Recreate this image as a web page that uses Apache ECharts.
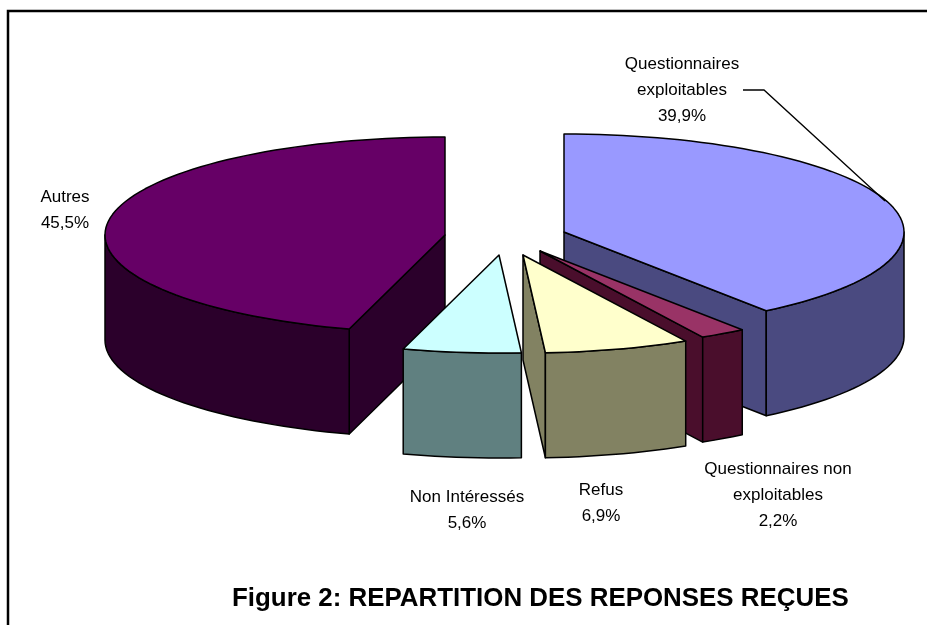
<!DOCTYPE html>
<html>
<head>
<meta charset="utf-8">
<style>
  html, body { margin: 0; padding: 0; background: #fff; }
  #chart { width: 927px; height: 625px; }
</style>
<script src="https://cdn.jsdelivr.net/npm/echarts@6/dist/echarts.min.js"></script>
</head>
<body>
<div id="chart"></div>
<script>
  var categories = ['Questionnaires exploitables', 'Questionnaires non exploitables', 'Refus', 'Non Intéressés', 'Autres'];
  var values = [39.9, 2.2, 6.9, 5.6, 45.5];
  var labelLines = [
    ['Questionnaires', 'exploitables'],
    ['Questionnaires non', 'exploitables'],
    ['Refus'],
    ['Non Intéressés'],
    ['Autres']
  ];
  var topColors = ['#9999ff', '#993366', '#ffffcc', '#ccffff', '#660066'];
  var sideColors = ['#4a4a80', '#4a0e2c', '#828262', '#608080', '#2b002b'];
  var titleText = 'Figure 2: REPARTITION DES REPONSES REÇUES';

  // centre de chaque part (eclatee) et position des etiquettes
  var centers = [[564, 232], [540, 251], [523, 255], [499, 255], [445, 235]];
  var labelPos = [[682, 64], [778, 469], [601, 490], [467, 497], [65, 197]];
  // ordre de dessin, du fond vers l'avant
  var drawOrder = [4, 0, 1, 3, 2];
  var rx = 340, ry = 98, depth = 105;

  var total = values.reduce(function (a, b) { return a + b; }, 0);

  function pt(c, deg, dy) {
    var r = deg * Math.PI / 180;
    return [c[0] + rx * Math.sin(r), c[1] - ry * Math.cos(r) + (dy || 0)];
  }

  function arc(c, from, to, dy) {
    var pts = [];
    var n = Math.max(2, Math.ceil(Math.abs(to - from) / 2));
    for (var i = 0; i <= n; i++) {
      pts.push(pt(c, from + (to - from) * i / n, dy));
    }
    return pts;
  }

  var lineStyle = { stroke: '#000', lineWidth: 1.5, lineJoin: 'round' };

  function poly(points, fill) {
    return { type: 'polygon', shape: { points: points }, style: Object.assign({ fill: fill }, lineStyle) };
  }

  function renderSlice(params, api) {
    var idx = api.value(1);
    var before = 0;
    for (var i = 0; i < idx; i++) before += values[i];
    var a0 = before / total * 360;
    var a1 = (before + api.value(0)) / total * 360;
    var c = centers[idx];
    var side = sideColors[idx];
    var kids = [];

    // faces radiales visibles
    if (Math.cos((a0 - 90) * Math.PI / 180) < -0.01) {
      var e0 = pt(c, a0);
      kids.push(poly([c, e0, [e0[0], e0[1] + depth], [c[0], c[1] + depth]], side));
    }
    if (Math.cos((a1 + 90) * Math.PI / 180) < -0.01) {
      var e1 = pt(c, a1);
      kids.push(poly([c, e1, [e1[0], e1[1] + depth], [c[0], c[1] + depth]], side));
    }
    // bord exterieur, seulement la partie avant
    var f0 = Math.max(a0, 90), f1 = Math.min(a1, 270);
    if (f1 > f0) {
      kids.push(poly(arc(c, f0, f1, 0).concat(arc(c, f1, f0, depth)), side));
    }
    // dessus
    kids.push(poly([c].concat(arc(c, a0, a1, 0)), topColors[idx]));
    return { type: 'group', children: kids };
  }

  function percent(v) {
    return v.toFixed(1).replace('.', ',') + '%';
  }

  var labelElements = [];
  categories.forEach(function (name, i) {
    var lines = labelLines[i].concat(percent(values[i]));
    lines.forEach(function (line, k) {
      labelElements.push({
        type: 'text',
        x: labelPos[i][0],
        y: labelPos[i][1] + k * 26,
        style: { text: line, fill: '#000', font: '17px "Liberation Sans", Arial', textAlign: 'center', textVerticalAlign: 'middle' }
      });
    });
  });

  var myChart = echarts.init(document.getElementById('chart'));
  myChart.setOption({
    backgroundColor: '#fff',
    animation: false,
    title: {
      text: titleText,
      left: 227,
      top: 581,
      textStyle: { fontFamily: '"Liberation Sans", Arial', fontWeight: 'bold', fontSize: 25.9, color: '#000' }
    },
    graphic: [
      {
        type: 'polyline',
        shape: { points: [[8, 625], [8, 11], [927, 11]] },
        style: { stroke: '#000', lineWidth: 2.5, fill: null }
      },
      {
        type: 'polyline',
        z: 10,
        shape: { points: [[743, 90], [764, 90], [885, 201]] },
        style: { stroke: '#000', lineWidth: 1.3, fill: null }
      }
    ].concat(labelElements),
    series: [{
      type: 'custom',
      coordinateSystem: 'none',
      renderItem: renderSlice,
      silent: true,
      data: drawOrder.map(function (i) {
        return { name: categories[i], value: [values[i], i] };
      })
    }]
  });
  window.addEventListener('resize', function () { myChart.resize(); });
</script>
</body>
</html>
